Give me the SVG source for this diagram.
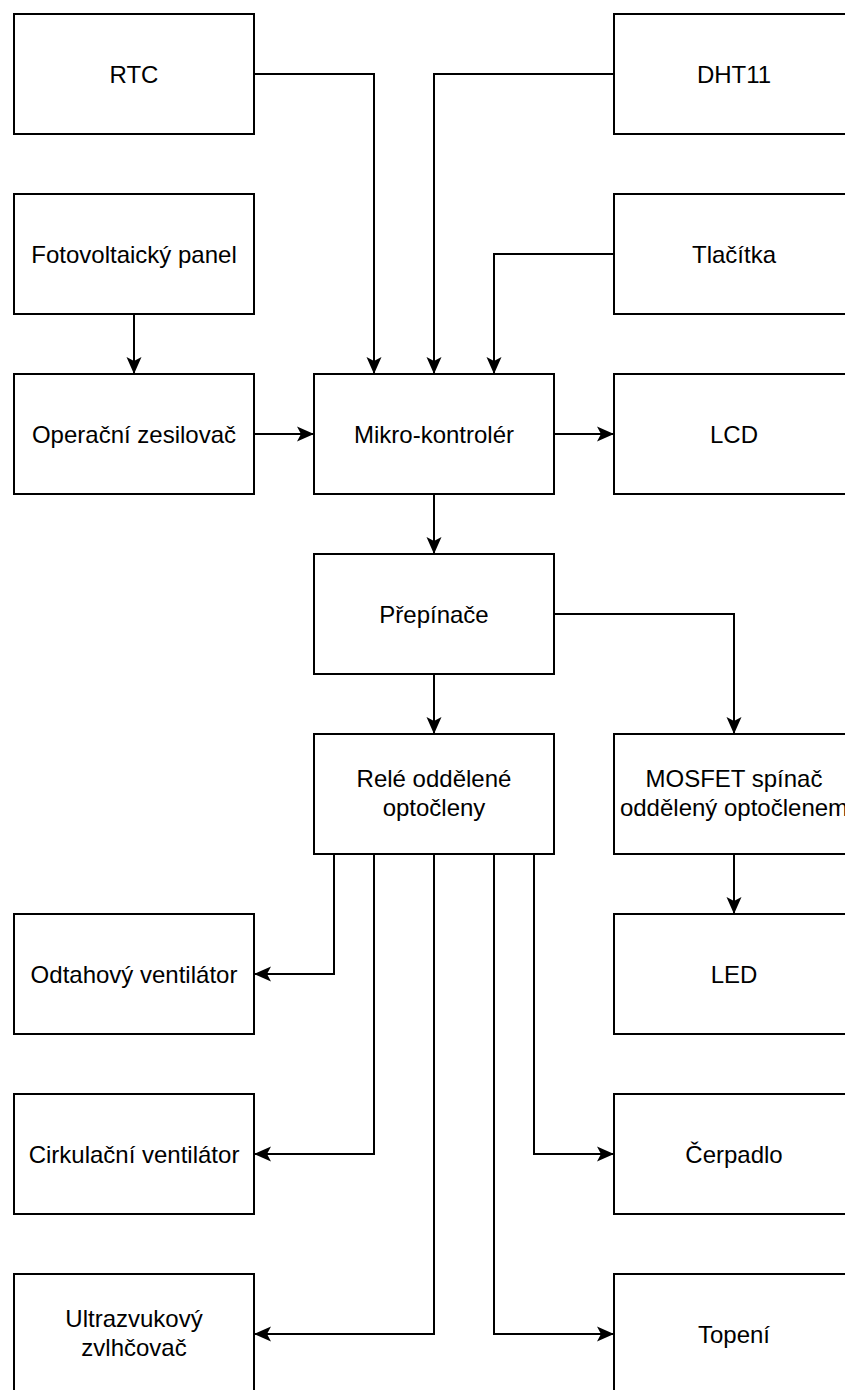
<svg xmlns="http://www.w3.org/2000/svg" width="845" height="1390" viewBox="0 0 845 1390">
  <style>
    .box rect { fill: #ffffff; stroke: #000000; stroke-width: 2; }
    .box text { font-family: "Liberation Sans", Arial, sans-serif; font-size: 24px; fill: #000000; text-anchor: middle; }
    .wire { fill: none; stroke: #000000; stroke-width: 2; }
  </style>
  <defs>
    <marker id="arrow" markerUnits="userSpaceOnUse" viewBox="0 0 17 16" refX="17" refY="8" markerWidth="17" markerHeight="16" orient="auto">
      <path d="M0,0.5 L17,8 L0,15.5 L4,8 Z" fill="#000000"/>
    </marker>
  </defs>
  <rect width="845" height="1390" fill="#ffffff"/>

  <!-- connectors -->
  <g id="connectors" class="wire" marker-end="url(#arrow)">
    <path d="M254,74 H374 V374"/>
    <path d="M614,74 H434 V374"/>
    <path d="M614,254 H494 V374"/>
    <path d="M134,314 V374"/>
    <path d="M254,434 H314"/>
    <path d="M554,434 H614"/>
    <path d="M434,494 V554"/>
    <path d="M434,674 V734"/>
    <path d="M554,614 H734 V734"/>
    <path d="M734,854 V914"/>
    <path d="M334,854 V974 H254"/>
    <path d="M374,854 V1154 H254"/>
    <path d="M434,854 V1334 H254"/>
    <path d="M494,854 V1334 H614"/>
    <path d="M534,854 V1154 H614"/>
  </g>

  <!-- nodes -->
  <g id="rtc" class="box"><rect x="14" y="14" width="240" height="120"/><text x="134" y="83">RTC</text></g>
  <g id="dht11" class="box"><rect x="614" y="14" width="240" height="120"/><text x="734" y="83">DHT11</text></g>
  <g id="fotovoltaicky-panel" class="box"><rect x="14" y="194" width="240" height="120"/><text x="134" y="263">Fotovoltaický panel</text></g>
  <g id="tlacitka" class="box"><rect x="614" y="194" width="240" height="120"/><text x="734" y="263">Tlačítka</text></g>
  <g id="operacni-zesilovac" class="box"><rect x="14" y="374" width="240" height="120"/><text x="134" y="443">Operační zesilovač</text></g>
  <g id="mikrokontroler" class="box"><rect x="314" y="374" width="240" height="120"/><text x="434" y="443">Mikro-kontrolér</text></g>
  <g id="lcd" class="box"><rect x="614" y="374" width="240" height="120"/><text x="734" y="443">LCD</text></g>
  <g id="prepinace" class="box"><rect x="314" y="554" width="240" height="120"/><text x="434" y="623">Přepínače</text></g>
  <g id="rele" class="box"><rect x="314" y="734" width="240" height="120"/><text x="434" y="787">Relé oddělené</text><text x="434" y="816">optočleny</text></g>
  <g id="mosfet" class="box"><rect x="614" y="734" width="240" height="120"/><text x="734" y="787">MOSFET spínač</text><text x="734" y="816">oddělený optočlenem</text></g>
  <g id="odtahovy-ventilator" class="box"><rect x="14" y="914" width="240" height="120"/><text x="134" y="983">Odtahový ventilátor</text></g>
  <g id="led" class="box"><rect x="614" y="914" width="240" height="120"/><text x="734" y="983">LED</text></g>
  <g id="cirkulacni-ventilator" class="box"><rect x="14" y="1094" width="240" height="120"/><text x="134" y="1163">Cirkulační ventilátor</text></g>
  <g id="cerpadlo" class="box"><rect x="614" y="1094" width="240" height="120"/><text x="734" y="1163">Čerpadlo</text></g>
  <g id="ultrazvukovy-zvlhcovac" class="box"><rect x="14" y="1274" width="240" height="120"/><text x="134" y="1327">Ultrazvukový</text><text x="134" y="1356">zvlhčovač</text></g>
  <g id="topeni" class="box"><rect x="614" y="1274" width="240" height="120"/><text x="734" y="1343">Topení</text></g>
</svg>
